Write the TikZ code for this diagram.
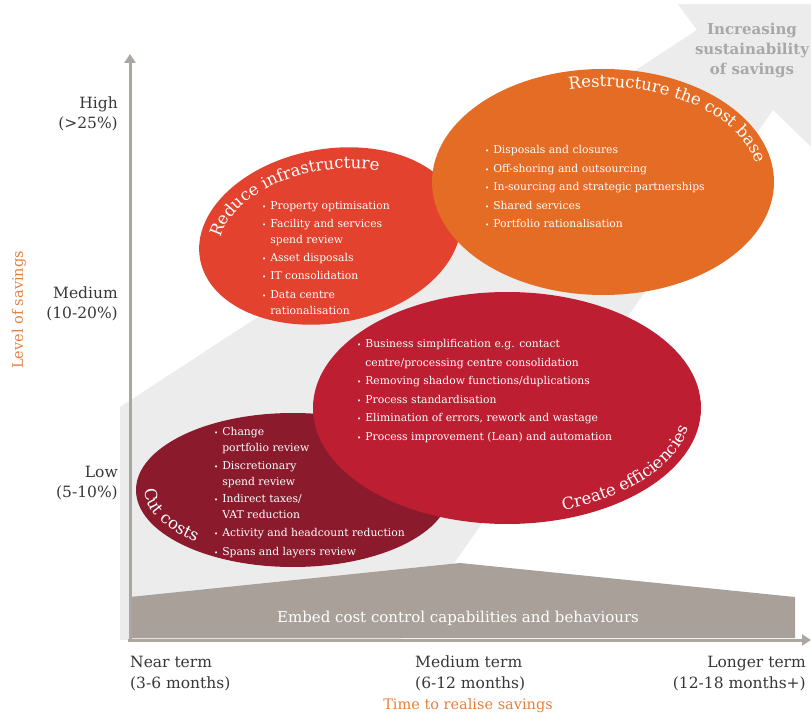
\documentclass[tikz,border=0pt]{standalone}
\usepackage{fontspec}
\setmainfont{DejaVu Serif}
\usepackage{xcolor}
\usetikzlibrary{arrows.meta,decorations.text,calc}

\definecolor{axisgrey}{RGB}{172,166,160}
\definecolor{bandgrey}{RGB}{168,160,153}
\definecolor{arrowgrey}{RGB}{236,236,236}
\definecolor{headgrey}{RGB}{168,168,168}
\definecolor{cutred}{RGB}{138,26,44}
\definecolor{effred}{RGB}{190,30,50}
\definecolor{infrared}{RGB}{226,66,46}
\definecolor{baseorange}{RGB}{229,108,36}
\definecolor{labelorange}{RGB}{226,128,66}
\definecolor{ticktext}{RGB}{55,55,55}

\newcommand{\bul}{{\scriptsize\textbullet}}
\newcommand{\titlefont}{\fontsize{16.5}{16.5}\selectfont\color{white}}

\tikzset{
  axis/.style={line width=3pt, axisgrey, -{Triangle[length=9pt,width=11pt]}},
  bullets/.style={text=white, font=\fontsize{10.8}{12.5}\selectfont, inner sep=0pt, anchor=base west, align=left},
  level/.style={text=ticktext, font=\fontsize{15.5}{20}\selectfont, align=right, anchor=east, inner sep=0pt},
  term/.style={text=ticktext, font=\fontsize{15.5}{21}\selectfont, inner sep=0pt},
  axistitle/.style={text=labelorange, font=\fontsize{14.5}{14.5}\selectfont, inner sep=0pt},
  arctitle/.style={decorate, decoration={text along path, text align=center, text={|\titlefont|#1}}}
}

\begin{document}
\begin{tikzpicture}[x=1pt, y=1pt]
    \useasboundingbox (0,0) rectangle (811,718);

    % big background arrow
    \begin{scope}
        \clip (0,0) rectangle (811,713);
        \fill[arrowgrey] (120,311) -- (697,688) -- (660,738) -- (900,818)
            -- (840,543) -- (773,608) -- (400,78) -- (120,78) -- cycle;
    \end{scope}
    \node[font=\fontsize{15}{20}\bfseries\selectfont, text=headgrey, align=center] (sustain) at (752,668)
        {Increasing\\sustainability\\of savings};

    % bottom band
    \fill[bandgrey] (130,121) -- (460,155) -- (795,121) -- (795,80) -- (130,80) -- cycle;
    \node[text=white, font=\fontsize{15}{15}\selectfont] (embed) at (458,100)
        {Embed cost control capabilities and behaviours};

    % axes
    \coordinate (origin) at (130,76);
    \coordinate (ytop) at (130,664);
    \coordinate (xend) at (811,78);
    \draw[axis] (origin) -- (ytop);
    \draw[axis] (128,78) -- (xend);

    % ellipses
    \coordinate (cut) at (293,228);
    \coordinate (infra) at (330,482);
    \coordinate (base) at (603,536);
    \coordinate (eff) at (507,310);
    \fill[cutred] (cut) ellipse[x radius=157, y radius=77];
    \begin{scope}[shift={(infra)}, rotate=10]
        \fill[infrared] (0,0) ellipse[x radius=132, y radius=87];
        \path[arctitle=Reduce infrastructure]
            (198:112 and 66) arc[start angle=198, end angle=34, x radius=112, y radius=66];
    \end{scope}
    \fill[baseorange] (base) ellipse[x radius=171, y radius=113];
    \path[arctitle=Restructure the cost base]
        ($(base)+(112:156 and 95)$) arc[start angle=112, end angle=-4, x radius=156, y radius=95];
    \fill[effred] (eff) ellipse[x radius=194, y radius=116];

    % titles along the lower rims
    \path[arctitle=Create efficiencies]
        ($(eff)+(-80:185 and 107)$) arc[start angle=-80, end angle=2, x radius=185, y radius=107];
    \path[arctitle=Cut costs]
        ($(cut)+(157:148 and 69)$) arc[start angle=157, end angle=242, x radius=148, y radius=69];

    % bullet lists
    \node[bullets] (cutlist) at (214,282) {\def\arraystretch{1.26}%
        \begin{tabular}[t]{@{}l@{\hspace{4pt}}l@{}}
        \bul & Change\\ & portfolio review\\[2pt]
        \bul & Discretionary\\ & spend review\\[2pt]
        \bul & Indirect taxes/\\ & VAT reduction\\[2pt]
        \bul & Activity and headcount reduction\\[3pt]
        \bul & Spans and layers review
        \end{tabular}};
    \node[bullets] (infralist) at (262,508) {\def\arraystretch{1.28}%
        \begin{tabular}[t]{@{}l@{\hspace{4pt}}l@{}}
        \bul & Property optimisation\\[2pt]
        \bul & Facility and services\\ & spend review\\[2pt]
        \bul & Asset disposals\\[2pt]
        \bul & IT consolidation\\[3pt]
        \bul & Data centre\\ & rationalisation
        \end{tabular}};
    \node[bullets] (baselist) at (485,564) {\def\arraystretch{1.48}%
        \begin{tabular}[t]{@{}l@{\hspace{4pt}}l@{}}
        \bul & Disposals and closures\\
        \bul & Off-shoring and outsourcing\\
        \bul & In-sourcing and strategic partnerships\\
        \bul & Shared services\\
        \bul & Portfolio rationalisation
        \end{tabular}};
    \node[bullets] (efflist) at (357,370) {\def\arraystretch{1.48}%
        \begin{tabular}[t]{@{}l@{\hspace{4pt}}l@{}}
        \bul & Business simplification e.g. contact\\
             & centre/processing centre consolidation\\
        \bul & Removing shadow functions/duplications\\
        \bul & Process standardisation\\
        \bul & Elimination of errors, rework and wastage\\
        \bul & Process improvement (Lean) and automation
        \end{tabular}};

    % level of savings
    \node[level] (high) at (118,604) {High\\(>25\%)};
    \node[level] (medium) at (118,414) {Medium\\(10-20\%)};
    \node[level] (low) at (118,235) {Low\\(5-10\%)};
    \node[axistitle, rotate=90] (levels) at (19,408) {Level of savings};

    % time to realise savings
    \node[term, anchor=north west, align=left] (near) at (130,62) {Near term\\(3-6 months)};
    \node[term, anchor=north west, align=left] (mid) at (415,62) {Medium term\\(6-12 months)};
    \node[term, anchor=north east, align=right] (long) at (806,62) {Longer term\\(12-18 months+)};
    \node[axistitle] (times) at (468,12) {Time to realise savings};
\end{tikzpicture}
\end{document}
